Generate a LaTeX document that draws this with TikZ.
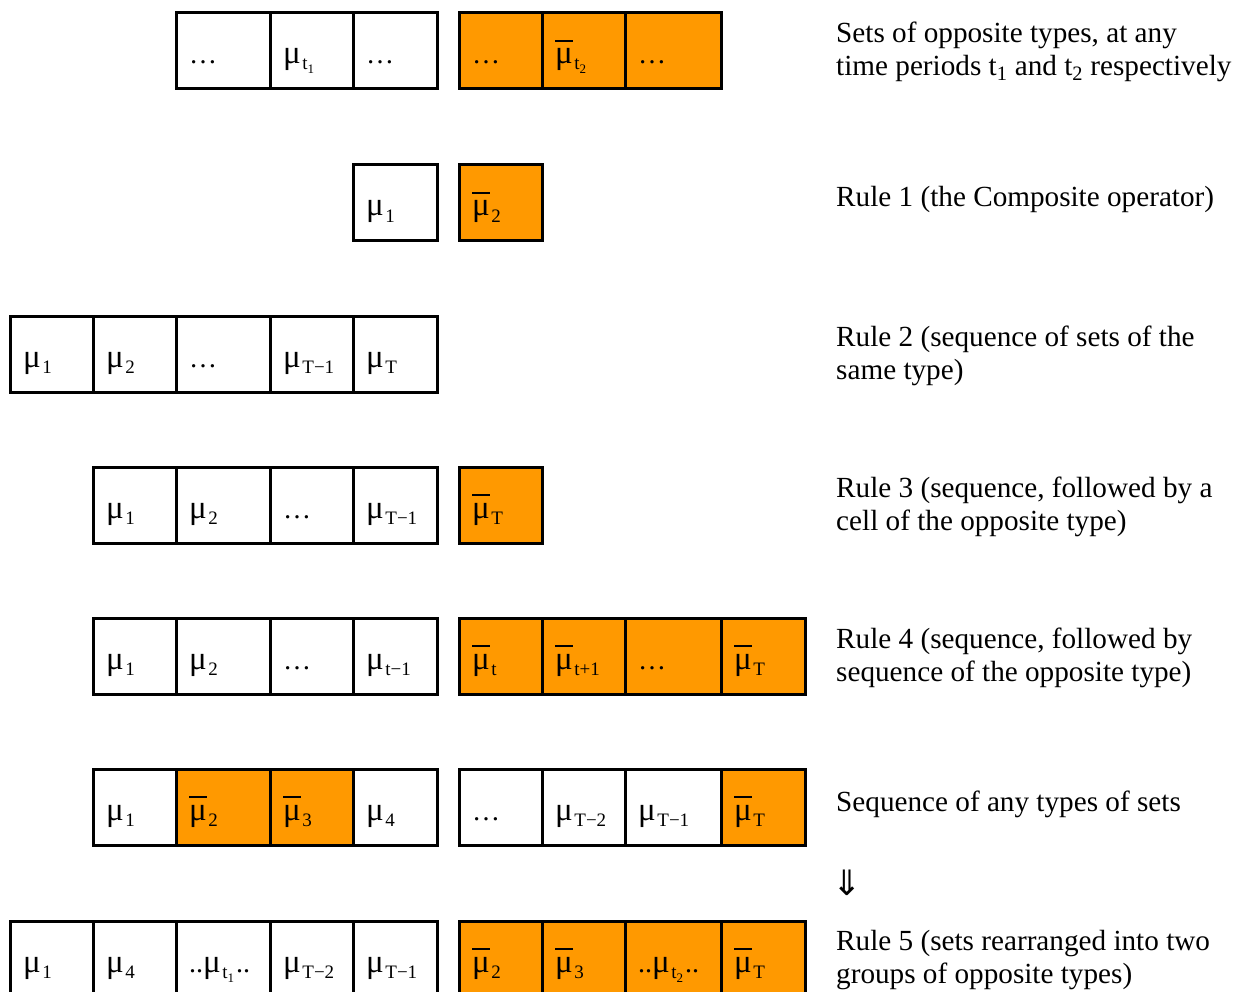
\documentclass[tikz,border=0pt]{standalone}
\usepackage{fontspec}
\setmainfont{Liberation Serif}
\newfontfamily\dejavu{DejaVu Sans}
\definecolor{cellorange}{HTML}{FF9900}
\newlength\mbw
\newcommand\mufont{\fontsize{33}{33}\selectfont}
\newcommand\mysub[1]{\kern1.5pt\raisebox{-6pt}{\fontsize{19}{19}\selectfont #1}}
\newcommand\mysubsub[1]{\raisebox{-4pt}{\fontsize{13}{13}\selectfont #1}}
\newcommand\mmu[1]{{\mufont μ}\mysub{#1}}
\newcommand\bmu[1]{{\mufont\settowidth{\mbw}{μ}\rlap{\raisebox{22pt}{\rule{\mbw}{1.6pt}}}μ}\mysub{#1}}
\newcommand\mydots{…}
\tikzset{
  cellbox/.style={draw=black, line width=3pt, minimum height=76pt, inner sep=0pt, outer sep=0pt, anchor=north west},
  white/.style={fill=white},
  orng/.style={fill=cellorange},
  celltext/.style={anchor=base west, inner sep=0pt, font=\fontsize{28}{28}\selectfont},
  desc/.style={anchor=base west, inner sep=0pt, font=\fontsize{29.2}{33}\selectfont},
}
% name, x, width, ytop, style, text
\newcommand\mkcell[6]{%
  \node[cellbox,#5,minimum width=#3pt] (#1) at (#2,#4) {};
  \node[celltext] (#1t) at ([xshift=13pt,yshift=-51pt]#1.north west) {#6};}
\begin{document}
\begin{tikzpicture}[x=1pt,y=-1pt]
\useasboundingbox (0,0) rectangle (1233,992);
\fill[white] (0,0) rectangle (1233,992);
% Row 1
\mkcell{ra1}{176}{94}{13}{white}{\mydots}
\mkcell{ra2}{270}{83}{13}{white}{\mmu{t\mysubsub{1}}}
\mkcell{ra3}{353}{84}{13}{white}{\mydots}
\mkcell{ra4}{459}{83}{13}{orng}{\mydots}
\mkcell{ra5}{542}{83}{13}{orng}{\bmu{t\mysubsub{2}}}
\mkcell{ra6}{625}{96}{13}{orng}{\mydots}
% Row 2
\mkcell{rb1}{353}{84}{165}{white}{\mmu{1}}
\mkcell{rb2}{459}{83}{165}{orng}{\bmu{2}}
% Row 3
\mkcell{rc1}{10}{83}{316}{white}{\mmu{1}}
\mkcell{rc2}{93}{83}{316}{white}{\mmu{2}}
\mkcell{rc3}{176}{94}{316}{white}{\mydots}
\mkcell{rc4}{270}{83}{316}{white}{\mmu{T−1}}
\mkcell{rc5}{353}{84}{316}{white}{\mmu{T}}
% Row 4
\mkcell{rd1}{93}{83}{467}{white}{\mmu{1}}
\mkcell{rd2}{176}{94}{467}{white}{\mmu{2}}
\mkcell{rd3}{270}{83}{467}{white}{\mydots}
\mkcell{rd4}{353}{84}{467}{white}{\mmu{T−1}}
\mkcell{rd5}{459}{83}{467}{orng}{\bmu{T}}
% Row 5
\mkcell{re1}{93}{83}{618}{white}{\mmu{1}}
\mkcell{re2}{176}{94}{618}{white}{\mmu{2}}
\mkcell{re3}{270}{83}{618}{white}{\mydots}
\mkcell{re4}{353}{84}{618}{white}{\mmu{t−1}}
\mkcell{re5}{459}{83}{618}{orng}{\bmu{t}}
\mkcell{re6}{542}{83}{618}{orng}{\bmu{t+1}}
\mkcell{re7}{625}{96}{618}{orng}{\mydots}
\mkcell{re8}{721}{84}{618}{orng}{\bmu{T}}
% Row 6
\mkcell{rf1}{93}{83}{769}{white}{\mmu{1}}
\mkcell{rf2}{176}{94}{769}{orng}{\bmu{2}}
\mkcell{rf3}{270}{83}{769}{orng}{\bmu{3}}
\mkcell{rf4}{353}{84}{769}{white}{\mmu{4}}
\mkcell{rf5}{459}{83}{769}{white}{\mydots}
\mkcell{rf6}{542}{83}{769}{white}{\mmu{T−2}}
\mkcell{rf7}{625}{96}{769}{white}{\mmu{T−1}}
\mkcell{rf8}{721}{84}{769}{orng}{\bmu{T}}
% Row 7
\mkcell{rg1}{10}{83}{921}{white}{\mmu{1}}
\mkcell{rg2}{93}{83}{921}{white}{\mmu{4}}
\mkcell{rg3}{176}{94}{921}{white}{..\mmu{t\mysubsub{1}}\kern2pt..}
\mkcell{rg4}{270}{83}{921}{white}{\mmu{T−2}}
\mkcell{rg5}{353}{84}{921}{white}{\mmu{T−1}}
\mkcell{rg6}{459}{83}{921}{orng}{\bmu{2}}
\mkcell{rg7}{542}{83}{921}{orng}{\bmu{3}}
\mkcell{rg8}{625}{96}{921}{orng}{..\mmu{t\mysubsub{2}}\kern2pt..}
\mkcell{rg9}{721}{84}{921}{orng}{\bmu{T}}
% Descriptions
\node[desc] (d1a) at (836,43) {Sets of opposite types, at any};
\node[desc] (d1b) at (836,76) {time periods t\textsubscript{1} and t\textsubscript{2} respectively};
\node[desc] (d2) at (836,207) {Rule 1 (the Composite operator)};
\node[desc] (d3a) at (836,346) {Rule 2 (sequence of sets of the};
\node[desc] (d3b) at (836,379) {same type)};
\node[desc] (d4a) at (836,497) {Rule 3 (sequence, followed by a};
\node[desc] (d4b) at (836,530) {cell of the opposite type)};
\node[desc] (d5a) at (836,648) {Rule 4 (sequence, followed by};
\node[desc] (d5b) at (836,681) {sequence of the opposite type)};
\node[desc] (d6) at (836,811) {Sequence of any types of sets};
\node[anchor=base west, inner sep=0pt, font=\dejavu\fontsize{35}{35}\selectfont] (arr) at (832,895) {⇓};
\node[desc] (d7a) at (836,950) {Rule 5 (sets rearranged into two};
\node[desc] (d7b) at (836,983) {groups of opposite types)};
\end{tikzpicture}
\end{document}
